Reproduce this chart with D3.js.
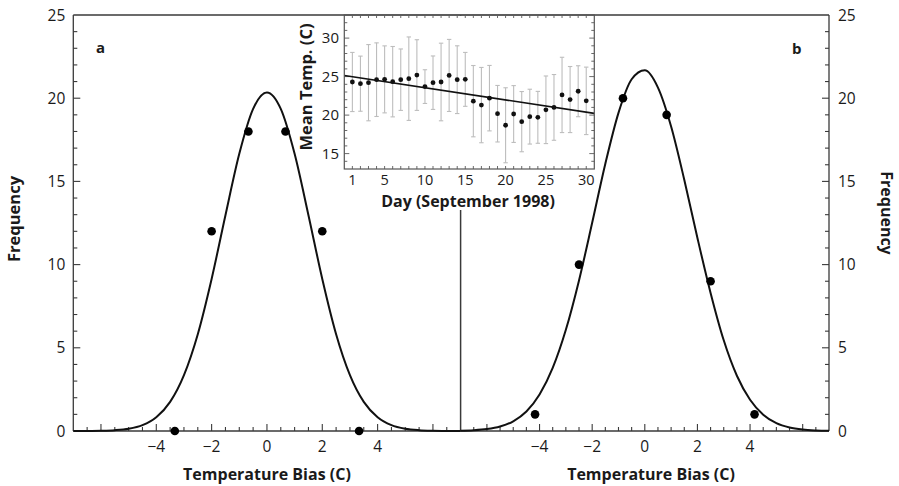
<!DOCTYPE html>
<html>
<head>
<meta charset="utf-8">
<script src="https://cdn.jsdelivr.net/npm/d3@7"></script>
<style>
  html, body { margin: 0; padding: 0; background: #fff; }
  svg { display: block; }
  text { font-family: "Open Sans", "Noto Sans", sans-serif; fill: #1a1a1a; }
</style>
</head>
<body>
<svg id="chart" width="899" height="486"></svg>
<script>
// ---------------- DATA ----------------
// Panel a: histogram points (temperature bias, frequency)
const biasA = [-3.33, -2, -0.67, 0.67, 2, 3.33];
const freqA = [0, 12, 18, 18, 12, 0];
// Panel b
const biasB = [-4.17, -2.5, -0.83, 0.83, 2.5, 4.17];
const freqB = [1, 10, 20, 19, 9, 1];

// Fitted curves at these bias values
const curveX = [-7, -6.5, -6, -5.5, -5, -4.5, -4, -3.5, -3, -2.5, -2, -1.5, -1, -0.5, 0,
                0.5, 1, 1.5, 2, 2.5, 3, 3.5, 4, 4.5, 5, 5.5, 6, 6.5, 7];
const curveA = [0.001, 0.004, 0.015, 0.048, 0.136, 0.353, 0.83, 1.75, 3.36, 5.82, 9.14, 12.97, 16.66, 19.36, 20.35,
                19.36, 16.66, 12.97, 9.14, 5.82, 3.36, 1.75, 0.83, 0.353, 0.136, 0.048, 0.015, 0.004, 0.001];
const curveB = [0.017, 0.046, 0.116, 0.27, 0.585, 1.17, 2.19, 3.79, 6.08, 9.05, 12.51, 16.06, 19.12, 21.14, 21.68,
                20.64, 18.3, 15.1, 11.6, 8.3, 5.45, 3.32, 1.88, 0.98, 0.47, 0.21, 0.087, 0.034, 0.012];

// Inset: daily mean temperature, September 1998, with error bars
const days = [1,2,3,4,5,6,7,8,9,10,11,12,13,14,15,16,17,18,19,20,21,22,23,24,25,26,27,28,29,30];
const meanTemp = [24.3, 24.08, 24.21, 24.6, 24.64, 24.34, 24.6, 24.73, 25.2, 23.7,
                  24.21, 24.3, 25.15, 24.6, 24.64, 21.81, 21.3, 22.2, 20.18, 18.68,
                  20.14, 19.15, 19.8, 19.71, 20.69, 21.0, 22.62, 22.02, 23.1, 21.85];
const tempErr = [3.84, 3.58, 4.95, 4.78, 4.35, 4.57, 3.99, 5.42, 4.59, 2.19,
                 3.47, 5.04, 4.68, 4.40, 3.50, 4.63, 4.89, 4.25, 3.67, 4.87,
                 3.69, 3.91, 3.56, 3.37, 4.39, 4.27, 4.89, 4.29, 3.31, 4.38];
const trendDays = [0, 31];
const trendTemp = [25.15, 20.22];

const biasTickLabels = [-4, -2, 0, 2, 4];
const freqTickLabels = [0, 5, 10, 15, 20, 25];
const dayTickLabels = [1, 5, 10, 15, 20, 25, 30];
const tempTickLabels = [15, 20, 25, 30];

// ---------------- LAYOUT ----------------
const svg = d3.select("#chart");
const axisColor = "#3a3a3a";

const yF = d3.scaleLinear().domain([0, 25]).range([431, 15]);
const xA = d3.scaleLinear().domain([-7, 7]).range([73.3, 460.6]);
const xB = d3.scaleLinear().domain([-7, 7]).range([460.6, 829]);

const fmt = d => (d < 0 ? "\u2212" + Math.abs(d) : String(d));

// frame
const gFrame = svg.append("g");
gFrame.append("line").attr("x1", xA(-7)).attr("x2", xB(7)).attr("y1", yF(25)).attr("y2", yF(25))
  .attr("stroke", axisColor).attr("stroke-width", 1.3);
gFrame.append("line").attr("x1", xA(-7)).attr("x2", xB(7)).attr("y1", yF(0)).attr("y2", yF(0))
  .attr("stroke", axisColor).attr("stroke-width", 1.5);
gFrame.append("line").attr("x1", xA(-7)).attr("x2", xA(-7)).attr("y1", yF(0)).attr("y2", yF(25))
  .attr("stroke", axisColor).attr("stroke-width", 1.3);
gFrame.append("line").attr("x1", xB(7)).attr("x2", xB(7)).attr("y1", yF(0)).attr("y2", yF(25))
  .attr("stroke", axisColor).attr("stroke-width", 1.3);
gFrame.append("line").attr("x1", xB(-7)).attr("x2", xB(-7)).attr("y1", yF(0)).attr("y2", yF(25))
  .attr("stroke", axisColor).attr("stroke-width", 1.5);

// x ticks (inward) for both panels
function xTicks(scale) {
  const minor = d3.range(-6.5, 6.51, 0.5);
  const g = svg.append("g");
  g.selectAll("line").data(minor).join("line")
    .attr("x1", d => scale(d)).attr("x2", d => scale(d))
    .attr("y1", yF(0))
    .attr("y2", d => yF(0) - (Math.abs(d % 2) < 1e-9 ? 7 : 4))
    .attr("stroke", axisColor).attr("stroke-width", 1.1);
  g.selectAll("text").data(biasTickLabels).join("text")
    .attr("x", d => scale(d)).attr("y", 452)
    .attr("text-anchor", "middle").attr("font-size", 15.5)
    .text(fmt);
}
xTicks(xA);
xTicks(xB);

// y ticks
function yTicks(xPos, dir) {
  const minor = d3.range(1, 25, 1);
  const g = svg.append("g");
  g.selectAll("line").data(minor).join("line")
    .attr("x1", xPos).attr("x2", d => xPos + dir * (d % 5 === 0 ? 7 : 4))
    .attr("y1", d => yF(d)).attr("y2", d => yF(d))
    .attr("stroke", axisColor).attr("stroke-width", 1.1);
  g.selectAll("text").data(freqTickLabels).join("text")
    .attr("x", dir > 0 ? xPos - 8 : xPos + 9)
    .attr("y", d => yF(d) + 5.5)
    .attr("text-anchor", dir > 0 ? "end" : "start")
    .attr("font-size", 15.5)
    .text(d => d);
}
yTicks(xA(-7), 1);
yTicks(xB(7), -1);

// axis titles
svg.append("text").attr("x", xA(0)).attr("y", 480).attr("text-anchor", "middle")
  .attr("font-size", 16).attr("font-weight", 700).text("Temperature Bias (C)");
svg.append("text").attr("x", 651).attr("y", 480).attr("text-anchor", "middle")
  .attr("font-size", 16).attr("font-weight", 700).text("Temperature Bias (C)");
svg.append("text").attr("transform", "translate(20,219) rotate(-90)").attr("text-anchor", "middle")
  .attr("font-size", 16.5).attr("font-weight", 700).text("Frequency");
svg.append("text").attr("transform", "translate(881,213) rotate(90)").attr("text-anchor", "middle")
  .attr("font-size", 16).attr("font-weight", 700).text("Frequency");

// panel letters
svg.append("text").attr("x", 96).attr("y", 53).attr("font-size", 15).attr("font-weight", 700).text("a");
svg.append("text").attr("x", 792).attr("y", 54).attr("font-size", 15).attr("font-weight", 700).text("b");

// ---------------- INSET ----------------
const xD = d3.scaleLinear().domain([0, 31]).range([344.3, 594.3]);
const yT = d3.scaleLinear().domain([13, 33]).range([169, 15]);

svg.append("rect").attr("x", 338).attr("y", 16).attr("width", 262).attr("height", 194).attr("fill", "#fff");

const gIn = svg.append("g");
// inset ticks
const dayTicks = d3.range(1, 31, 1);
const tempTicks = d3.range(14, 33, 1);
const inTick = "#6a6a6a";
gIn.selectAll(".tb").data(dayTicks).join("line")
  .attr("x1", d => xD(d)).attr("x2", d => xD(d)).attr("y1", yT(13)).attr("y2", yT(13) - 3)
  .attr("stroke", inTick).attr("stroke-width", 1);
gIn.selectAll(".tt").data(dayTicks).join("line")
  .attr("x1", d => xD(d)).attr("x2", d => xD(d)).attr("y1", yT(33)).attr("y2", yT(33) + 3)
  .attr("stroke", inTick).attr("stroke-width", 1);
gIn.selectAll(".tl").data(tempTicks).join("line")
  .attr("x1", xD(0)).attr("x2", d => xD(0) + (d % 5 === 0 ? 5 : 3)).attr("y1", d => yT(d)).attr("y2", d => yT(d))
  .attr("stroke", inTick).attr("stroke-width", 1);
gIn.selectAll(".tr").data(tempTicks).join("line")
  .attr("x1", xD(31)).attr("x2", d => xD(31) - (d % 5 === 0 ? 5 : 3)).attr("y1", d => yT(d)).attr("y2", d => yT(d))
  .attr("stroke", inTick).attr("stroke-width", 1);

// error bars
const eb = gIn.append("g").attr("stroke", "#bdbdbd").attr("stroke-width", 1.1);
days.forEach((d, i) => {
  const x = xD(d), y1 = yT(meanTemp[i] - tempErr[i]), y2 = yT(meanTemp[i] + tempErr[i]);
  eb.append("line").attr("x1", x).attr("x2", x).attr("y1", y1).attr("y2", y2);
  eb.append("line").attr("x1", x - 2.2).attr("x2", x + 2.2).attr("y1", y1).attr("y2", y1);
  eb.append("line").attr("x1", x - 2.2).attr("x2", x + 2.2).attr("y1", y2).attr("y2", y2);
});
// trend line
gIn.append("path")
  .attr("d", d3.line().x(d => xD(d[0])).y(d => yT(d[1]))(trendDays.map((d, i) => [d, trendTemp[i]])))
  .attr("stroke", "#111").attr("stroke-width", 1.6).attr("fill", "none");
// points
gIn.selectAll("circle").data(days).join("circle")
  .attr("cx", d => xD(d)).attr("cy", (d, i) => yT(meanTemp[i])).attr("r", 2.4).attr("fill", "#111");
// inset frame
gIn.append("rect").attr("x", xD(0)).attr("y", yT(33)).attr("width", xD(31) - xD(0)).attr("height", yT(13) - yT(33))
  .attr("fill", "none").attr("stroke", "#555").attr("stroke-width", 1.2);
// inset labels
gIn.selectAll(".dl").data(dayTickLabels).join("text")
  .attr("x", d => xD(d)).attr("y", 185).attr("text-anchor", "middle").attr("font-size", 14.5).text(d => d);
gIn.selectAll(".tlab").data(tempTickLabels).join("text")
  .attr("x", 339).attr("y", d => yT(d) + 5.3).attr("text-anchor", "end").attr("font-size", 15).text(d => d);
gIn.append("text").attr("x", 468).attr("y", 206.5).attr("text-anchor", "middle")
  .attr("font-size", 16).attr("font-weight", 700).text("Day (September 1998)");
gIn.append("text").attr("transform", "translate(312,87) rotate(-90)").attr("text-anchor", "middle")
  .attr("font-size", 16.5).attr("font-weight", 700).text("Mean Temp. (C)");

// ---------------- CURVES & POINTS ----------------
const lineA = d3.line().x(d => xA(d[0])).y(d => yF(d[1])).curve(d3.curveMonotoneX);
const lineB = d3.line().x(d => xB(d[0])).y(d => yF(d[1])).curve(d3.curveMonotoneX);
svg.append("path").attr("d", lineA(curveX.map((x, i) => [x, curveA[i]])))
  .attr("fill", "none").attr("stroke", "#111").attr("stroke-width", 2);
svg.append("path").attr("d", lineB(curveX.map((x, i) => [x, curveB[i]])))
  .attr("fill", "none").attr("stroke", "#111").attr("stroke-width", 2);

svg.append("g").selectAll("circle").data(biasA).join("circle")
  .attr("cx", d => xA(d)).attr("cy", (d, i) => yF(freqA[i])).attr("r", 4.3).attr("fill", "#000");
svg.append("g").selectAll("circle").data(biasB).join("circle")
  .attr("cx", d => xB(d)).attr("cy", (d, i) => yF(freqB[i])).attr("r", 4.3).attr("fill", "#000");
</script>
</body>
</html>
